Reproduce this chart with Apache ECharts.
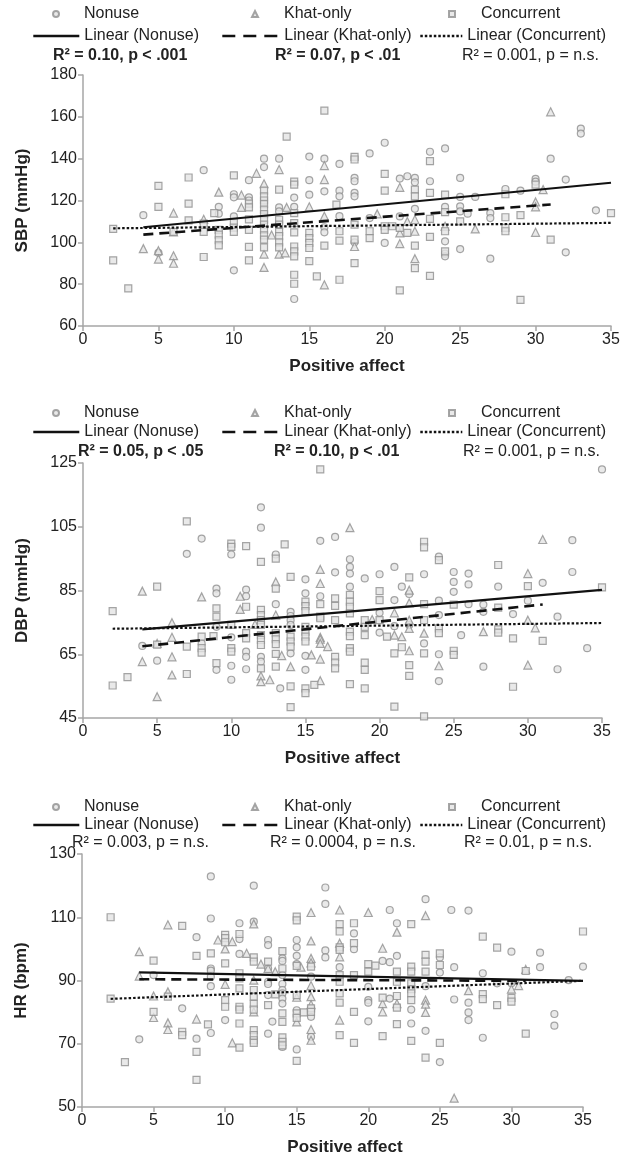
<!DOCTYPE html>
<html>
<head>
<meta charset="utf-8">
<script src="https://cdn.jsdelivr.net/npm/echarts@6/dist/echarts.min.js"></script>
<style>
  html, body { margin: 0; padding: 0; background: #fff; }
  #main { width: 636px; height: 1160px; }
</style>
</head>
<body>
<div id="main"></div>
<script>
// ---- data: [positive affect, value] ----
var sbpNonuse = [[4,113],[5,95],[8,134.5],[9,117],[9,113.7],[10,123],[10,121.5],[10,112.4],[10,86.6],[11,129.7],[11,121.5],[11,120],[12,140],[12,136],[13,140],[13,116.7],[13,114.8],[14,121.4],[14,117],[14,72.9],[15,141],[15,129.7],[15,122.8],[16,140],[16,124.4],[16,107.2],[16,104.8],[17,137.5],[17,124.7],[17,122],[17,112.5],[18,130.8],[18,129.2],[18,123.6],[18,122],[18,100],[19,142.5],[19,111.6],[20,147.6],[20,99.7],[21,130.5],[21,112.4],[21.5,131.6],[22,130.8],[22,128.7],[22,116],[23,143.3],[23,129.2],[24,144.9],[24,117],[24,100.5],[24,94.6],[24,93.3],[25,130.8],[25,121.7],[25,117.2],[25,114.8],[25,96.8],[25.5,113.7],[26,121.7],[27,114],[27,111.6],[27,92.2],[28,125.5],[29,124.7],[30,130.3],[30,129],[31,140],[32,130],[32,95.2],[33,154.4],[33,152],[34,115.3],[35,181.9]];
var sbpKhat = [[4,97],[5,96],[5,92],[6,114],[6,105],[6,93.6],[6,90],[8,111],[9,124],[10.5,122.6],[10.5,116.7],[11.5,133],[12,128],[12,94.4],[12,88],[12.5,103.5],[13,134.8],[13,94.4],[13.4,95],[13.5,116.7],[15,117],[16,136.7],[16,130],[16,112.5],[16,79.7],[18,98],[19.5,113.6],[21,126.3],[21,104.5],[21,99.4],[21.5,110],[22,110.9],[22,105.3],[22,92.2],[24,107.7],[26,106.4],[30,119.3],[30,117],[30,104.8],[30.5,125.2],[31,162.4]];
var sbpConc = [[2,106.4],[2,91.4],[3,78],[5,127],[5,117],[6,105],[7,131],[7,118.5],[7,110.5],[8,109],[8,105],[8,93],[8.7,114],[9,106],[9,103.7],[9,101],[9,98.5],[10,132],[10,109.6],[10,107],[10,105],[11,118.5],[11,116.7],[11,111],[11,106],[11,97.8],[11,91.4],[12,124.7],[12,122],[12,120],[12,118.3],[12,115.6],[12,113.5],[12,110.8],[12,108.5],[12,106],[12,103.3],[12,101.3],[12,97.6],[13,125.2],[13,110.8],[13,108.5],[13,105],[13,103],[13,100],[13,97.6],[13.5,150.5],[14,129],[14,127.6],[14,114],[14,109.2],[14,104.8],[14,98],[14,95.7],[14,93.3],[14,84.5],[14,80.2],[15,104.5],[15,102],[15,99.7],[15,97.3],[15,91],[15.5,83.7],[16,163],[16,98.4],[16.8,118],[17,105.3],[17,100.8],[17,82.1],[18,140.9],[18,139.6],[18,108.5],[18,101.3],[18,90.1],[19,105.3],[19,102],[20,132.7],[20,124.7],[20,107.7],[20,106],[20.5,107.7],[21,106.9],[21,77],[21.5,104.5],[22,125.2],[22,122],[22,98.4],[22,87.7],[23,138.8],[23,123.6],[23,111.2],[23,102.6],[23,84],[24,122.8],[24,114.4],[24,105.3],[24,95.7],[25,110],[28,123],[28,112],[28,106.9],[28,105.3],[29,113],[29,72.5],[30,127.6],[31,101.3],[35,114]];

var dbpNonuse = [[4,67.6],[5,63],[7,96.5],[8,101.3],[8,68.4],[9,85.6],[9,84.1],[9,73.6],[9,60.1],[10,96.3],[10,70.3],[10,61.4],[10,57],[11,85.3],[11,83.2],[11,65.8],[11,64.2],[11,60.3],[12,111.1],[12,104.7],[12,64.2],[12,62.7],[13,96.3],[13,80.7],[13.3,54.3],[14,78.3],[14,77],[14,75.7],[14,74.2],[14,65.3],[15,88.5],[15,84.1],[15,64.5],[15,60.1],[16,100.6],[16,83.2],[17,101.8],[17,90.7],[18,94.8],[18,92.4],[18,90.3],[18,86.2],[19,88.8],[20,90.1],[20,78],[20,71.8],[21,92.4],[21,82],[21,73.8],[21.5,86.2],[22,83.9],[22,74.2],[23,90.1],[23,68.4],[24,95.6],[24,81.8],[24,77.3],[24,65],[24,56.6],[25,90.8],[25,87.7],[25,84.6],[25.5,71],[26,90.3],[26,86.9],[26,80.7],[27,80.6],[27,78.3],[27,61.1],[28,86.2],[29,77.6],[30,81.8],[31,87.4],[32,76.8],[32,60.3],[33,100.8],[33,90.8],[34,66.9],[35,123]];
var dbpKhat = [[4,84.8],[4,62.7],[5,68.4],[5,51.7],[6,74.9],[6,70.3],[6,64.2],[6,58.5],[8,83],[10.6,83.2],[10.6,79.1],[11.6,74.4],[12,58.2],[12,56.4],[12.6,57],[13,87.7],[13,77.3],[13.4,64.6],[14,61.1],[15.4,64.8],[16,91.6],[16,87.2],[16,70.3],[16,63.5],[16,56.7],[16,69.7],[16,68.4],[16.5,67.4],[18,104.7],[19.5,75.9],[21,78],[21,71],[21.5,70.5],[22,85.1],[22,81.1],[22,75.7],[22,73.1],[22,66.1],[23,71.6],[24,61.4],[27,72.1],[30,90.3],[30,75.7],[30,61.6],[30.5,73.3],[31,101]];
var dbpConc = [[2,78.5],[2,55.2],[3,57.8],[5,86.2],[5,68],[7,106.7],[7,67.4],[7,58.8],[8,70.5],[8,66.9],[8,65.5],[8.8,70.7],[9,79.4],[9,76.8],[9,62.2],[10,99.7],[10,98.7],[10,74.2],[10,66.9],[10,65.8],[11,98.9],[11,79.9],[11,71.6],[11,70],[12,94],[12,78.9],[12,77.3],[12,75.7],[12,74.2],[12,71],[12,69.5],[12,67.9],[12,60.6],[13,95],[13,85.6],[13,71.6],[13,69.7],[13,68.2],[13,65.1],[13,61.1],[13.6,99.5],[14,89.3],[14,70.5],[14,69],[14,67.4],[14,54.9],[14,48.4],[15,81.5],[15,80.1],[15,78.5],[15,73.6],[15,72.1],[15,70.5],[15,69],[15,54.3],[15,52.8],[15.6,55.4],[16,123],[16,80.7],[16,76.8],[16,76.3],[17,82.5],[17,80.2],[17,75.7],[17,64.2],[17,62.4],[17,60.6],[18,83.6],[18,81.5],[18,79.9],[18,77.8],[18,72.1],[18,70.7],[18,66.9],[18,65.8],[18,55.6],[19,75.7],[19,73.6],[19,71],[19,62.4],[19,60.1],[19,54.3],[20,84.8],[20,82],[20,75.7],[20.5,70.5],[21,65.3],[21,48.6],[21.5,67.2],[22,89.1],[22,61.6],[22,58.2],[23,100.3],[23,98.5],[23,80.7],[23,75.7],[23,65.3],[23,45.5],[24,94.5],[24,73.1],[24,71.6],[25,80.6],[25,66.1],[25,64.8],[28,93],[28,79.6],[28,72.8],[28,71.8],[29,70],[29,54.8],[30,86.4],[31,69.2],[35,86]];

var hrNonuse = [[4,71.4],[5,91.7],[7,81.2],[8,103.7],[8,71.6],[9,122.9],[9,109.6],[9,93.8],[9,93.1],[9,91.2],[9,88.2],[9,73.4],[10,77.5],[11,108.1],[11,103.1],[11,98.4],[12,120],[12,108.6],[13,102.8],[13,101.2],[13,93.8],[13,89.6],[13,88.9],[13,85.4],[13,73.2],[13.3,77],[14,97],[14,96.2],[14,91.7],[14,88.9],[14,87],[14,85.9],[14,84.3],[14,82.7],[14,69],[15,102.8],[15,100.5],[15,97.8],[15,95.2],[15,80.6],[15,68.2],[16,91.2],[16,78.5],[16,72.2],[17,119.4],[17,114.2],[17,99.5],[17,97.3],[18,94.2],[19,104.9],[19,99.9],[20,88],[20,83.8],[20,83],[20,77.1],[21,96.2],[21.5,112.3],[21.5,95.8],[21.5,84.3],[22,108.1],[22,97.8],[23,80.8],[23,76.4],[24,115.7],[24,88.2],[24,74.1],[25,97.3],[25,92.5],[25,64.2],[25.8,112.3],[26,94.2],[26,84],[27,112.1],[27,83],[27,79.9],[27,77.5],[28,92.3],[28,71.9],[29,89.1],[30,99.1],[30,89.1],[32,98.8],[32,94.2],[33,79.4],[33,75.7],[34,90.1],[35,94.4]];
var hrKhat = [[4,99.1],[4,91.4],[5,85.1],[5,78.3],[6,107.6],[6,86.4],[6,76.6],[6,74.5],[8,77.8],[9.5,102.8],[10,100],[10,88.8],[10.5,102.3],[10.5,70.3],[11.5,98.6],[12,107.9],[12,90.1],[12,80.1],[12.5,95.2],[13,93.8],[13.5,92.8],[15,84.7],[15,76.9],[15.3,94.2],[16,111.5],[16,102.5],[16,97],[16,95.6],[16,88.4],[16,84.9],[16,82.4],[16,74.5],[16,71.1],[18,112.3],[18,101.8],[18,97.5],[18,77.5],[20,111.5],[21,100.2],[21,82.7],[21,80.1],[22,105.3],[22,82.7],[24,110.5],[24,83.8],[24,82.5],[24,79.9],[26,52.8],[27,86.8],[30,87.3],[30.5,88.4],[31,93.5]];
var hrConc = [[2,110],[2,84.3],[3,64.2],[5,96.3],[5,80.1],[6,84.9],[7,107.3],[7,73.8],[7,72.7],[8,97.8],[8,67.4],[8,58.6],[8.8,76.1],[9,98.6],[10,104.4],[10,103.4],[10,102.1],[10,95.4],[10,83.8],[10,81.7],[11,104.7],[11,92.3],[11,90.7],[11,87.5],[11,81.7],[11,80.8],[11,76.4],[11,68.8],[12,97.3],[12,96],[12,87],[12,84.9],[12,82.6],[12,80.8],[12,74.3],[12,72.7],[12,71.1],[12,70.3],[13,96],[13,82.2],[13.5,85.6],[14,99.3],[14,93.8],[14,79.6],[14,76.9],[14,72],[14,70.6],[14,69.5],[15,110.2],[15,109],[15,94.6],[15,85.4],[15,79.6],[15,78.2],[15,64.6],[15.5,79.9],[16,94.4],[16,81.2],[16,80.1],[18,107.8],[18,105.5],[18,100.5],[18,99.7],[18,91.7],[18,89.6],[18,85.9],[18,83],[18,72.7],[19,108.1],[19,101.8],[19,91.7],[19,80.1],[19,70.3],[20,95.2],[20,92.8],[20.5,94.7],[21,84.6],[21,72.4],[22,92.8],[22,89.6],[22,85.1],[22,81.4],[22,76.2],[23,107.8],[23,94.4],[23,92.8],[23,89.1],[23,87.3],[23,85.9],[23,83.8],[23,70.9],[24,98.1],[24,96],[24,92.8],[24,65.6],[25,98.6],[25,94.9],[25,70.3],[28,103.9],[28,85.7],[28,84.1],[29,100.4],[29,82.2],[30,84.5],[30,83.3],[31,93],[31,73.2],[35,105.5]];

// fitted lines (end points as drawn)
var sbpFitNonuse = [[4,107.2],[35,128.5]];
var sbpFitKhat = [[4,103.7],[31,118.1]];
var sbpFitConc = [[2,106.7],[35,109.3]];
var dbpFitNonuse = [[4,72.8],[35,85.2]];
var dbpFitKhat = [[4,67.5],[31,80.6]];
var dbpFitConc = [[2,73],[35,74.8]];
var hrFitNonuse = [[4,92.6],[35,89.9]];
var hrFitKhat = [[4,90.4],[31,89.9]];
var hrFitConc = [[2,84.2],[35,89.9]];

var groups = ['Nonuse', 'Khat-only', 'Concurrent'];
var fitNames = ['Linear (Nonuse)', 'Linear (Khat-only)', 'Linear (Concurrent)'];
var symbols = ['circle', 'triangle', 'rect'];
var dashes = ['solid', [10, 6], [2.5, 2]];
var legendDashes = ['solid', [13, 8], [2.5, 2]];

var yTitles = ['SBP (mmHg)', 'DBP (mmHg)', 'HR (bpm)'];
var yRanges = [[60, 180], [45, 125], [50, 130]];
var r2Labels = [
    ['R² = 0.10, p < .001', 'R² = 0.07, p < .01', 'R² = 0.001, p = n.s.'],
    ['R² = 0.05, p < .05', 'R² = 0.10, p < .01', 'R² = 0.001, p = n.s.'],
    ['R² = 0.003, p = n.s.', 'R² = 0.0004, p = n.s.', 'R² = 0.01, p = n.s.']
];
var r2Bold = [[true, true, false], [true, true, false], [false, false, false]];

var points = [[sbpNonuse, sbpKhat, sbpConc], [dbpNonuse, dbpKhat, dbpConc], [hrNonuse, hrKhat, hrConc]];
var fits = [[sbpFitNonuse, sbpFitKhat, sbpFitConc], [dbpFitNonuse, dbpFitKhat, dbpFitConc], [hrFitNonuse, hrFitKhat, hrFitConc]];

var FONT = 'Liberation Sans, Arial, sans-serif';

// layout per panel
var grids = [
    {left: 83, right: 25, top: 75, bottom: 834},
    {left: 83, right: 34, top: 463, bottom: 442},
    {left: 82, right: 53, top: 854, bottom: 53}
];
var rowY = [[15, 37, 57], [414, 433, 453], [808, 826, 844]];
var colMarker = [55, 254, 451];
var colText = [83, 283, 480];
var lineSpan = [[32, 46], [221, 57], [419, 42]];
var r2X = [[53, 275, 462], [78, 274, 463], [72, 270, 464]];
var titleShift = [0, 0, 25];

var chart = echarts.init(document.getElementById('main'));

var option = {
    animation: false,
    backgroundColor: '#fff',
    textStyle: {fontFamily: FONT},
    grid: [], xAxis: [], yAxis: [], series: [], legend: [], graphic: []
};

for (var p = 0; p < 3; p++) {
    option.grid.push(grids[p]);
    option.xAxis.push({
        gridIndex: p, type: 'value', min: 0, max: 35, interval: 5,
        name: 'Positive affect', nameLocation: 'middle', nameGap: 32,
        nameTextStyle: {fontSize: 17, fontWeight: 'bold', color: '#222', fontFamily: FONT,
            padding: [0, 0, 0, titleShift[p]]},
        axisLine: {lineStyle: {color: '#a6a6a6', width: 1.5}},
        axisTick: {show: true, length: 5, lineStyle: {color: '#a6a6a6', width: 1.5}},
        axisLabel: {fontSize: 16, color: '#222', margin: 6, fontFamily: FONT},
        splitLine: {show: false}
    });
    option.yAxis.push({
        gridIndex: p, type: 'value', min: yRanges[p][0], max: yRanges[p][1], interval: 20,
        name: yTitles[p], nameLocation: 'middle', nameGap: 52, nameRotate: 90,
        nameTextStyle: {fontSize: 17, fontWeight: 'bold', color: '#222', fontFamily: FONT},
        axisLine: {show: true, lineStyle: {color: '#a6a6a6', width: 1.5}},
        axisTick: {show: true, length: 5, lineStyle: {color: '#a6a6a6', width: 1.5}},
        axisLabel: {fontSize: 16, color: '#222', margin: 6, fontFamily: FONT},
        splitLine: {show: false}
    });

    for (var g = 0; g < 3; g++) {
        option.series.push({
            name: groups[g], type: 'scatter',
            xAxisIndex: p, yAxisIndex: p,
            symbol: symbols[g], symbolSize: g === 1 ? 8 : 7,
            itemStyle: {color: '#e4e4e4', borderColor: '#8f8f8f', borderWidth: 1.2},
            data: points[p][g], z: 2
        });
    }
    for (var g = 0; g < 3; g++) {
        option.series.push({
            name: fitNames[g], type: 'line',
            xAxisIndex: p, yAxisIndex: p,
            symbol: 'none', showSymbol: false,
            lineStyle: {color: '#111', width: g === 1 ? 2.6 : 2.2, type: dashes[g]},
            itemStyle: {color: 'rgba(0,0,0,0)', borderWidth: 0},
            data: fits[p][g], z: 5
        });
    }

    // legend: one box per cell so columns line up like the original
    for (var g = 0; g < 3; g++) {
        option.legend.push({
            data: [groups[g]], left: colMarker[g] - 3, top: rowY[p][0] - 9, padding: 0,
            itemWidth: 6, itemHeight: 6, selectedMode: false,
            textStyle: {fontSize: 16, color: '#222', fontFamily: FONT,
                padding: [0, 0, 0, colText[g] - (colMarker[g] - 3) - 11]}
        });
        option.legend.push({
            data: [fitNames[g]], left: lineSpan[g][0], top: rowY[p][1] - 9, padding: 0,
            itemWidth: lineSpan[g][1], itemHeight: 12, selectedMode: false,
            itemStyle: {opacity: 0, color: 'rgba(0,0,0,0)', borderWidth: 0},
            lineStyle: {width: 2.6, color: '#111', type: legendDashes[g]},
            textStyle: {fontSize: 16, color: '#222', fontFamily: FONT}
        });
        option.graphic.push({
            type: 'text', left: r2X[p][g], top: rowY[p][2] - 9,
            style: {text: r2Labels[p][g], font: (r2Bold[p][g] ? 'bold ' : '') + '16px ' + FONT, fill: '#222'}
        });
    }
}

chart.setOption(option);
</script>
</body>
</html>
